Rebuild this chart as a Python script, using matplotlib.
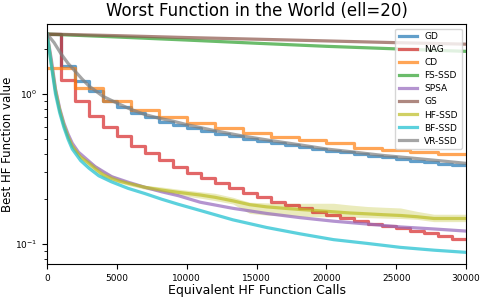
import numpy as np
import matplotlib
matplotlib.use("Agg")
import matplotlib.pyplot as plt

# step-wise methods, one level per 1000 (or 2000) calls
gd_x = np.arange(0, 31000, 1000)
gd_y = [2.51, 1.53, 1.215, 1.04, 0.90, 0.82, 0.75, 0.70, 0.655, 0.62, 0.59,
        0.565, 0.543, 0.523, 0.505, 0.488, 0.472, 0.458, 0.445, 0.432, 0.42,
        0.409, 0.398, 0.388, 0.378, 0.369, 0.36, 0.352, 0.344, 0.337, 0.335]

nag_x = np.arange(0, 31000, 1000)
nag_y = [2.51, 1.234, 0.894, 0.717, 0.60, 0.522, 0.448, 0.402, 0.363, 0.328,
         0.296, 0.275, 0.254, 0.235, 0.218, 0.205, 0.191, 0.182, 0.173, 0.164,
         0.156, 0.150, 0.143, 0.137, 0.132, 0.127, 0.122, 0.118, 0.113, 0.108,
         0.108]

cd_x = np.arange(0, 32000, 2000)
cd_y = [1.48, 1.097, 0.902, 0.786, 0.70, 0.638, 0.59, 0.552, 0.52, 0.494,
        0.469, 0.435, 0.423, 0.411, 0.40, 0.40]

# smooth methods
fs_x = [0, 5000, 10000, 15000, 20000, 25000, 30000]
fs_y = [2.51, 2.4, 2.29, 2.18, 2.08, 2.0, 1.925]

gs_x = [0, 1000, 5000, 10000, 15000, 20000, 25000, 30000]
gs_y = [2.51, 2.5, 2.45, 2.38, 2.32, 2.26, 2.2, 2.15]

spsa_x = [0, 300, 600, 900, 1200, 1500, 1800, 2240, 3440, 4630, 5820, 7000,
          8200, 9400, 10960, 13300, 15700, 18100, 20500, 22900, 25300, 27700,
          30000]
spsa_y = [2.51, 1.7, 1.08, 0.8, 0.64, 0.54, 0.47, 0.41, 0.328, 0.281, 0.258,
          0.239, 0.223, 0.21, 0.19, 0.173, 0.16, 0.15, 0.142, 0.136, 0.13,
          0.126, 0.122]

bf_x = [0, 300, 600, 900, 1200, 1500, 1800, 2400, 3000, 3700, 4600, 5800,
        7000, 8200, 9400, 11000, 13300, 15700, 18100, 20500, 22900, 25300,
        27700, 30000]
bf_y = [2.51, 1.55, 1.0, 0.75, 0.6, 0.5, 0.43, 0.36, 0.32, 0.285, 0.26, 0.235,
        0.217, 0.199, 0.184, 0.167, 0.145, 0.129, 0.117, 0.107, 0.101, 0.095,
        0.091, 0.088]

vr_x = [0, 500, 1000, 1500, 2000, 2500, 3000, 4000, 5000, 6000, 7000, 8000,
        9000, 10000, 12000, 14000, 16000, 18000, 20000, 22000, 24000, 26000,
        28000, 30000]
vr_y = [2.51, 2.2, 1.85, 1.6, 1.42, 1.26, 1.13, 0.965, 0.87, 0.79, 0.73, 0.69,
        0.66, 0.625, 0.57, 0.525, 0.49, 0.46, 0.43, 0.41, 0.39, 0.375, 0.36,
        0.345]

# HF-SSD mean and spread
hf_x = [0, 300, 600, 900, 1200, 1500, 1800, 2400, 3000, 3500, 4000, 4600,
        5200, 5800, 7000, 8200, 9400, 11000, 12000, 13300, 14500, 15700, 17000,
        18100, 19300, 20500, 21700, 22900, 24000, 25300, 26500, 27700, 29000,
        30000]
hf_y = [2.51, 1.6, 1.05, 0.78, 0.62, 0.52, 0.45, 0.38, 0.345, 0.315, 0.29,
        0.274, 0.262, 0.254, 0.239, 0.229, 0.221, 0.212, 0.205, 0.194, 0.183,
        0.177, 0.173, 0.17, 0.167, 0.164, 0.161, 0.159, 0.157, 0.155, 0.152,
        0.148, 0.148, 0.148]
hf_lo = [2.51, 1.58, 1.03, 0.77, 0.61, 0.51, 0.44, 0.37, 0.325, 0.30, 0.278,
         0.265, 0.255, 0.246, 0.232, 0.222, 0.212, 0.202, 0.195, 0.185, 0.160,
         0.156, 0.154, 0.153, 0.152, 0.152, 0.151, 0.150, 0.149, 0.148, 0.146,
         0.141, 0.141, 0.141]
hf_hi = [2.51, 1.62, 1.07, 0.79, 0.63, 0.53, 0.46, 0.39, 0.36, 0.335, 0.31,
         0.29, 0.275, 0.262, 0.246, 0.24, 0.232, 0.223, 0.218, 0.205, 0.19,
         0.188, 0.187, 0.187, 0.187, 0.187, 0.182, 0.178, 0.176, 0.174, 0.165,
         0.158, 0.158, 0.158]

fig = plt.figure(figsize=(4.86, 3.0), dpi=100)
ax = fig.add_axes([0.097, 0.12, 0.862, 0.80])

lw = 2.3
a = 0.7
ax.plot(gd_x, gd_y, drawstyle="steps-post", color="tab:blue", lw=lw, alpha=a, label="GD")
ax.plot(nag_x, nag_y, drawstyle="steps-post", color="tab:red", lw=lw, alpha=a, label="NAG")
ax.plot(cd_x, cd_y, drawstyle="steps-post", color="tab:orange", lw=lw, alpha=a, label="CD")
ax.plot(fs_x, fs_y, color="tab:green", lw=lw, alpha=a, label="FS-SSD")
ax.plot(spsa_x, spsa_y, color="tab:purple", lw=lw, alpha=a, label="SPSA")
ax.plot(gs_x, gs_y, color="tab:brown", lw=lw, alpha=a, label="GS")
ax.plot(hf_x, hf_y, color="tab:olive", lw=lw, alpha=a, label="HF-SSD")
ax.fill_between(hf_x, hf_lo, hf_hi, color="tab:olive", alpha=0.3, lw=0)
ax.plot(bf_x, bf_y, color="tab:cyan", lw=lw, alpha=a, label="BF-SSD")
ax.plot(vr_x, vr_y, color="tab:gray", lw=lw, alpha=a, label="VR-SSD")

ax.set_yscale("log")
ax.set_xlim(0, 30000)
ax.set_ylim(0.0736, 2.93)
ax.tick_params(labelsize=6.5)
ax.set_title("Worst Function in the World (ell=20)", fontsize=12)
ax.set_xlabel("Equivalent HF Function Calls", fontsize=9, labelpad=1)
ax.set_ylabel("Best HF Function value", fontsize=8.5, labelpad=1)
ax.legend(loc="upper right", fontsize=6.5, labelspacing=0.45)

fig.savefig("out.png", dpi=100)
